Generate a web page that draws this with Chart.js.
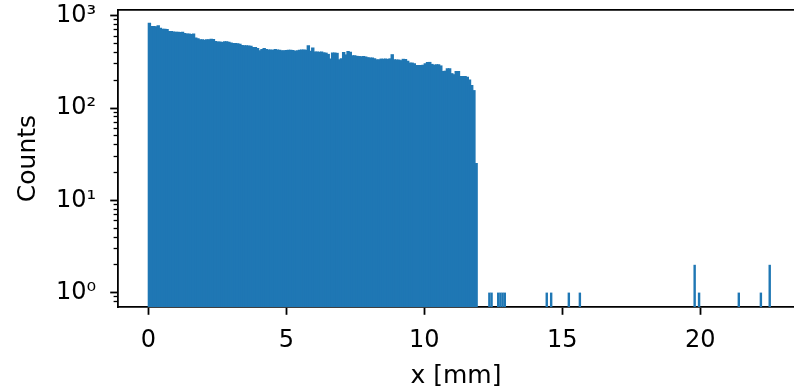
<!DOCTYPE html>
<html><head><meta charset="utf-8">
<script src="https://cdn.jsdelivr.net/npm/chart.js@4.4.0/dist/chart.umd.min.js"></script>
<style>html,body{margin:0;padding:0;background:#fff;overflow:hidden;}</style>
</head><body>
<canvas id="c" width="794" height="392"></canvas>
<script>
// ---- data ----
const binWidth = 0.08; // mm, bins start at 0
const mainCounts = [
  828, 760, 760, 755, 774, 730, 713, 713, 705, 671,
  671, 665, 661, 661, 655, 661, 640, 630, 630, 625,
  630, 570, 560, 547, 547, 540, 547, 547, 555, 550,
  525, 516, 516, 510, 520, 520, 515, 505, 499, 499,
  495, 490, 475, 471, 471, 468, 465, 452, 450, 440,
  416, 430, 440, 430, 425, 425, 420, 430, 425, 420,
  416, 416, 418, 420, 422, 418, 412, 416, 420, 425,
  425, 420, 471, 410, 445, 402, 402, 400, 402, 395,
  392, 380, 338, 393, 393, 390, 332, 340, 398, 375,
  408, 400, 367, 367, 362, 360, 358, 360, 356, 350,
  347, 347, 340, 332, 332, 338, 336, 338, 335, 340,
  377, 332, 330, 330, 325, 336, 334, 320, 306, 306,
  300, 288, 288, 288, 290, 300, 311, 311, 296, 290,
  294, 294, 285, 248, 250, 266, 266, 235, 229, 248,
  248, 219, 219, 219, 215, 200, 175, 154, 25
];
const isolatedBins   = [154, 155, 158, 159, 160, 161, 180, 182, 190, 195, 247, 249, 267, 277, 281];
const isolatedCounts = [1,   1,   1,   1,   1,   1,   1,   1,   1,   1,   2,   1,   1,   1,   2];
const xTickValues = [0, 5, 10, 15, 20];
const xTickLabels = ['0', '5', '10', '15', '20'];
const yTickValues = [1, 10, 100, 1000];
const yTickLabels = ['10⁰', '10¹', '10²', '10³'];
const yMinorTickValues = [0.8, 0.9, 2, 3, 4, 5, 6, 7, 8, 9, 20, 30, 40, 50, 60, 70, 80, 90, 200, 300, 400, 500, 600, 700, 800, 900];
const xLimits = [-1.098, 23.4];
const yLimits = [0.715, 1152];
const xLabel = 'x [mm]';
const yLabel = 'Counts';

// ---- build histogram points ----
const points = [];
mainCounts.forEach((c, k) => points.push({x: (k + 0.5) * binWidth, y: c}));
isolatedBins.forEach((k, i) => points.push({x: (k + 0.5) * binWidth, y: isolatedCounts[i]}));

const tickFont = {family: 'DejaVu Sans', size: 24};
const labelFont = {family: 'DejaVu Sans', size: 25};
const black = '#000000';
const LW = 1.8;
const TL = 7.8;
const noPad = s => { s.paddingTop = 0; s.paddingBottom = 0; s.paddingLeft = 0; s.paddingRight = 0; };

new Chart(document.getElementById('c'), {
  type: 'bar',
  data: {datasets: [{
    data: points,
    backgroundColor: '#1f77b4',
    borderWidth: 0,
    barPercentage: 1.0,
    categoryPercentage: 1.0,
    inflateAmount: ctx => (ctx.dataIndex < mainCounts.length ? 0.6 : 0.1)
  }]},
  options: {
    responsive: false,
    devicePixelRatio: 1,
    animation: false,
    events: [],
    layout: {padding: {top: 10, left: 0, right: 0, bottom: 0}},
    plugins: {legend: {display: false}, tooltip: {enabled: false}},
    scales: {
      x: {
        type: 'linear', position: 'bottom', min: xLimits[0], max: xLimits[1], offset: false,
        afterBuildTicks: s => { s.ticks = xTickValues.map(v => ({value: v})); },
        afterFit: s => { s.height = 85; noPad(s); },
        ticks: {font: tickFont, color: black, padding: 12, autoSkip: false, maxRotation: 0,
          callback: v => xTickLabels[xTickValues.indexOf(v)]},
        grid: {drawOnChartArea: false, offset: false, tickLength: TL, tickWidth: LW, tickColor: black},
        border: {display: true, color: black, width: LW},
        title: {display: true, text: xLabel, font: labelFont, color: black, padding: {top: 0, bottom: 1}}
      },
      xTop: {
        type: 'linear', position: 'top', min: xLimits[0], max: xLimits[1], offset: false,
        afterFit: s => { s.height = 0; noPad(s); },
        ticks: {display: false},
        grid: {drawOnChartArea: false, drawTicks: false},
        border: {display: true, color: black, width: LW}
      },
      y: {
        type: 'logarithmic', position: 'left', weight: 1, min: yLimits[0], max: yLimits[1],
        afterBuildTicks: s => { s.ticks = yTickValues.map(v => ({value: v, major: true})); },
        afterFit: s => { s.width = 118; noPad(s); },
        ticks: {font: tickFont, color: black, padding: 14, autoSkip: false,
          callback: v => yTickLabels[yTickValues.indexOf(v)]},
        grid: {drawOnChartArea: false, tickLength: TL, tickWidth: LW, tickColor: black},
        border: {display: true, color: black, width: LW},
        title: {display: true, text: yLabel, font: labelFont, color: black, padding: {top: 13, bottom: 0}}
      },
      yMinor: {
        type: 'logarithmic', position: 'left', weight: 0, min: yLimits[0], max: yLimits[1],
        afterBuildTicks: s => { s.ticks = yMinorTickValues.map(v => ({value: v})); },
        afterFit: s => { s.width = 0; noPad(s); },
        ticks: {display: false},
        grid: {drawOnChartArea: false, tickLength: 4.4, tickWidth: 1.3, tickColor: black},
        border: {display: false}
      }
    }
  }
});
</script>
</body></html>
